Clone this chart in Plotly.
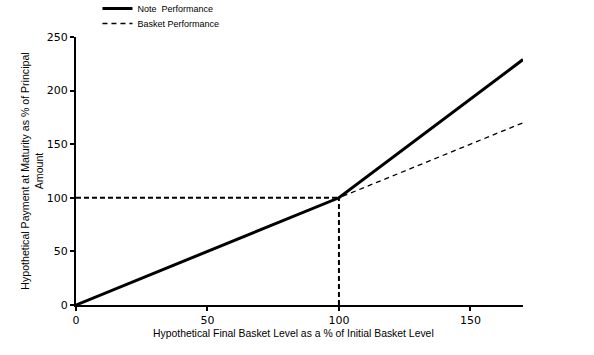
import plotly.graph_objects as go

note_x = [0, 100, 170]
note_y = [0, 100, 229]
basket_x = [0, 100, 170]
basket_y = [0, 100, 170]
ref_h_x = [0, 100]
ref_h_y = [100, 100]
ref_v_x = [100, 100]
ref_v_y = [0, 100]
x_ticks = [0, 50, 100, 150]
y_ticks = [0, 50, 100, 150, 200, 250]
x_title = "Hypothetical Final Basket Level as a % of Initial Basket Level"
y_title = "Hypothetical Payment at Maturity as % of Principal<br>Amount"

fig = go.Figure()
fig.add_trace(go.Scatter(x=ref_h_x, y=ref_h_y, mode="lines", showlegend=False,
                         line=dict(color="black", width=2, dash="5px,3px"), hoverinfo="skip"))
fig.add_trace(go.Scatter(x=ref_v_x, y=ref_v_y, mode="lines", showlegend=False,
                         line=dict(color="black", width=2, dash="5px,3px"), hoverinfo="skip"))
fig.add_trace(go.Scatter(x=note_x, y=note_y, mode="lines", name="Note  Performance",
                         line=dict(color="black", width=3), legend="legend"))
fig.add_trace(go.Scatter(x=basket_x, y=basket_y, mode="lines", name="Basket Performance",
                         line=dict(color="black", width=1.3, dash="5px,4px"), legend="legend2"))

PH = 268.0
def py(p):
    return 1 + (37 - p) / PH

leg_common = dict(x=0.048, xanchor="left", yanchor="top",
                  font=dict(size=9, family="Liberation Sans, Arial"),
                  bgcolor="rgba(0,0,0,0)", itemwidth=30)

fig.update_layout(
    width=594, height=355,
    margin=dict(l=76, r=71, t=37, b=50, autoexpand=False),
    paper_bgcolor="white", plot_bgcolor="white",
    font=dict(family="Liberation Sans, Arial", color="black"),
    legend=dict(y=py(-6), **leg_common),
    legend2=dict(y=py(9), **leg_common),
    xaxis=dict(range=[0, 170], tickvals=x_ticks, showgrid=False, zeroline=False,
               showline=True, linecolor="black", linewidth=2, ticks="outside",
               ticklen=4, tickcolor="black", tickwidth=1.5, automargin=False,
               tickfont=dict(family="DejaVu Sans, Verdana", size=11)),
    yaxis=dict(range=[0, 250], tickvals=y_ticks, showgrid=False, zeroline=False,
               showline=True, linecolor="black", linewidth=2, ticks="outside",
               ticklen=4, tickcolor="black", tickwidth=1.5, automargin=False,
               tickfont=dict(family="DejaVu Sans, Verdana", size=11),
               title=dict(text=y_title, font=dict(size=10.6), standoff=1)),
    annotations=[dict(text=x_title, xref="paper", yref="paper", x=0.4855, y=py(333),
                      xanchor="center", yanchor="middle", showarrow=False,
                      font=dict(size=10.4, family="Liberation Sans, Arial"))],
)
fig.write_html("out.html", config={"displayModeBar": False},
               post_script="document.body.style.margin='0';")
